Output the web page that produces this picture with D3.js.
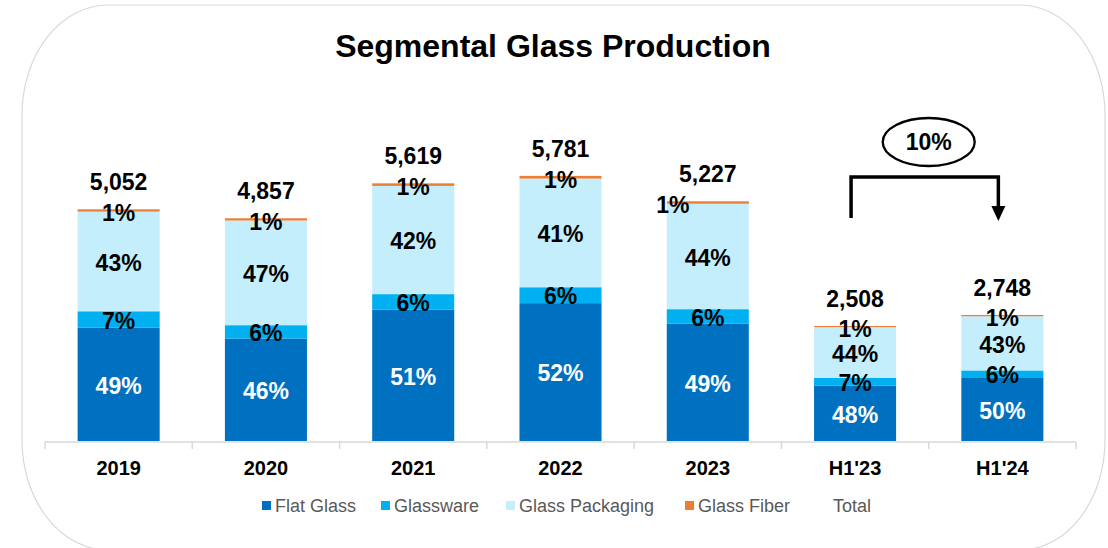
<!DOCTYPE html>
<html>
<head>
<style>
  body { margin: 0; background: #fff; }
  text { font-family: Arial, "Liberation Sans", sans-serif; }
</style>
</head>
<body>

<script src="https://d3js.org/d3.v7.min.js"></script>
<script>

const width = 1108;
const height = 548;

const categories = ['2019', '2020', '2021', '2022', '2023', "H1'23", "H1'24"];
const totals = [5052, 4857, 5619, 5781, 5227, 2508, 2748];
const flatGlass = [49, 46, 51, 52, 49, 48, 50];
const glassware = [7, 6, 6, 6, 6, 7, 6];
const glassPackaging = [43, 47, 42, 41, 44, 44, 43];
const glassFiber = [1, 1, 1, 1, 1, 1, 1];
const growthLabel = '10%';

const seriesNames = ['Flat Glass', 'Glassware', 'Glass Packaging', 'Glass Fiber'];
const seriesPct = [flatGlass, glassware, glassPackaging, glassFiber];
const colors = ['#0070C0', '#00B0F0', '#C5EEFD', '#ED7D31'];
const labelColors = ['#fff', '#000', '#000', '#000'];

const svg = d3.select('body')
              .append('svg')
              .attr('width', width)
              .attr('height', height);

// rounded frame
svg.append('path')
   .attr('d', 'M 108 5 L 1020 5 A 85 110 0 0 1 1105 115 L 1105 440 A 85 110 0 0 1 1020 550 L 108 550 A 86 110 0 0 1 22 440 L 22 115 A 86 110 0 0 1 108 5 Z')
   .attr('fill', 'none')
   .attr('stroke', '#d9d9d9')
   .attr('stroke-width', 1.2);

svg.append('text')
   .attr('x', 553)
   .attr('y', 57)
   .attr('text-anchor', 'middle')
   .attr('font-size', 32)
   .attr('font-weight', 'bold')
   .text('Segmental Glass Production');

const x = d3.scaleBand()
            .domain(categories)
            .range([45, 1076])
            .padding(0);

const y = d3.scaleLinear()
            .domain([0, 7000])
            .range([441, 120]);

const barW = x.bandwidth() * 0.557;

// build stacked rows
const rows = categories.map((c, i) => {
  const row = {cat: c, total: totals[i]};
  seriesNames.forEach((s, k) => { row[s] = totals[i] * seriesPct[k][i] / 100; });
  return row;
});

const stacked = d3.stack().keys(seriesNames)(rows);

const layer = svg.selectAll('g.layer')
                 .data(stacked)
                 .enter()
                 .append('g')
                 .attr('fill', (d, k) => colors[k]);

layer.selectAll('rect')
     .data(d => d)
     .enter()
     .append('rect')
     .attr('x', d => x(d.data.cat) + (x.bandwidth() - barW) / 2)
     .attr('width', barW)
     .attr('y', d => y(d[1]))
     .attr('height', d => y(d[0]) - y(d[1]));

// axis line with boundary ticks
const axisY = 442;
svg.append('line')
   .attr('x1', 45).attr('x2', 1076)
   .attr('y1', axisY).attr('y2', axisY)
   .attr('stroke', '#d9d9d9').attr('stroke-width', 1.5);

const bounds = categories.map(c => x(c)).concat([x.range()[1]]);
svg.selectAll('line.tick')
   .data(bounds)
   .enter()
   .append('line')
   .attr('x1', d => d).attr('x2', d => d)
   .attr('y1', axisY).attr('y2', axisY + 7)
   .attr('stroke', '#d9d9d9').attr('stroke-width', 1.5);

svg.selectAll('text.cat')
   .data(categories)
   .enter()
   .append('text')
   .attr('x', d => x(d) + x.bandwidth() / 2)
   .attr('y', 475)
   .attr('text-anchor', 'middle')
   .attr('font-size', 20)
   .attr('font-weight', 'bold')
   .text(d => d);

// segment labels
stacked.forEach((s, k) => {
  svg.selectAll('text.seg' + k)
     .data(s)
     .enter()
     .append('text')
     .attr('x', (d, i) => {
       const cx = x(d.data.cat) + x.bandwidth() / 2;
       return (k === 3 && i === 4) ? cx - barW / 2 + 6 : cx;
     })
     .attr('y', d => (y(d[0]) + y(d[1])) / 2 + (k === 3 ? 2 : 1))
     .attr('dy', '0.36em')
     .attr('text-anchor', 'middle')
     .attr('font-size', 23)
     .attr('font-weight', 'bold')
     .attr('fill', labelColors[k])
     .text((d, i) => seriesPct[k][i] + '%');
});

// total labels
svg.selectAll('text.total')
   .data(rows)
   .enter()
   .append('text')
   .attr('x', d => x(d.cat) + x.bandwidth() / 2)
   .attr('y', d => y(d.total) - 19)
   .attr('text-anchor', 'middle')
   .attr('font-size', 23)
   .attr('font-weight', 'bold')
   .text(d => d3.format(',')(d.total));

// growth bracket between the two half-years
const xa = x("H1'23") + x.bandwidth() / 2 - 4;
const xb = x("H1'24") + x.bandwidth() / 2 - 4;
svg.append('path')
   .attr('d', `M ${xa} 218 L ${xa} 177 L ${xb} 177 L ${xb} 208`)
   .attr('fill', 'none')
   .attr('stroke', '#000')
   .attr('stroke-width', 3.5);
svg.append('path')
   .attr('d', `M ${xb - 7} 206 L ${xb + 7} 206 L ${xb} 221 Z`)
   .attr('fill', '#000');

const ex = (xa + xb) / 2 + 4;
svg.append('ellipse')
   .attr('cx', ex).attr('cy', 142)
   .attr('rx', 46).attr('ry', 24)
   .attr('fill', '#fff')
   .attr('stroke', '#000')
   .attr('stroke-width', 2.3);
svg.append('text')
   .attr('x', ex).attr('y', 142)
   .attr('dy', '0.36em')
   .attr('text-anchor', 'middle')
   .attr('font-size', 23)
   .attr('font-weight', 'bold')
   .text(growthLabel);

// legend
const legendItems = seriesNames.concat(['Total']);
const legendX = [262, 381, 506, 685, 820];
const lg = svg.selectAll('g.legend')
              .data(legendItems)
              .enter()
              .append('g')
              .attr('transform', (d, i) => `translate(${legendX[i]},501)`);

lg.filter((d, i) => i < 4)
  .append('rect')
  .attr('width', 9).attr('height', 9)
  .attr('fill', (d, i) => colors[i]);

lg.append('text')
  .attr('x', 13)
  .attr('y', 11)
  .attr('font-size', 18)
  .attr('fill', '#595959')
  .text(d => d);

</script>
</body>
</html>
